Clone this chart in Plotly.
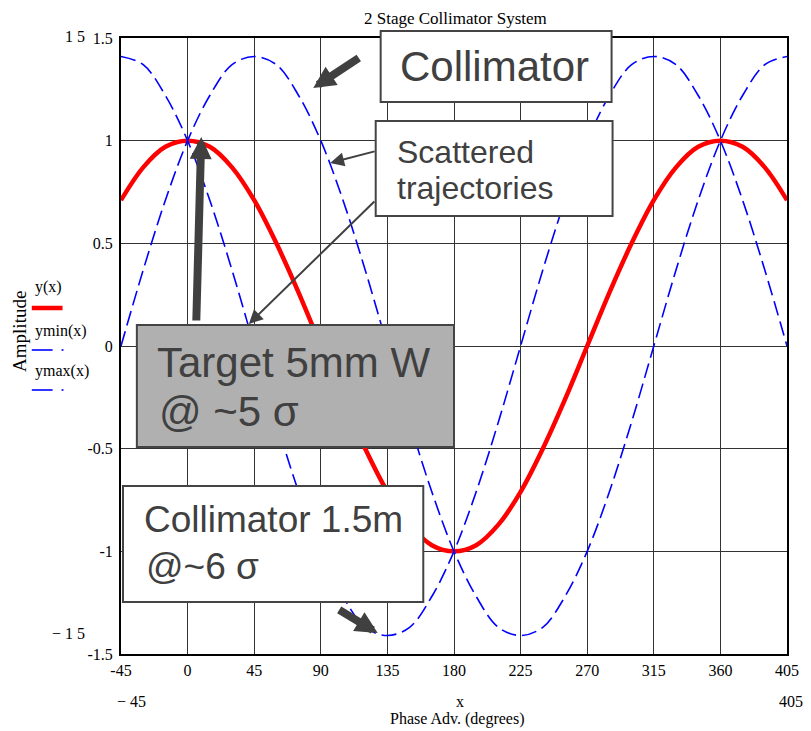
import plotly.graph_objects as go

# ---- data (phase advance in degrees) ----
phase_deg = [-45, -30, -15, 0, 15, 30, 45, 60, 75, 90, 105, 120, 135, 150, 165, 180,
             195, 210, 225, 240, 255, 270, 285, 300, 315, 330, 345, 360, 375, 390, 405]
y_vals = [0.71, 0.87, 0.97, 1.00, 0.97, 0.87, 0.71, 0.50, 0.26, 0.00, -0.26, -0.50, -0.71,
          -0.87, -0.97, -1.00, -0.97, -0.87, -0.71, -0.50, -0.26, 0.00, 0.26, 0.50, 0.71,
          0.87, 0.97, 1.00, 0.97, 0.87, 0.71]
ymin_vals = [1.41, 1.37, 1.22, 1.00, 0.71, 0.37, 0.00, -0.37, -0.71, -1.00, -1.22, -1.37,
             -1.41, -1.37, -1.22, -1.00, -0.71, -0.37, 0.00, 0.37, 0.71, 1.00, 1.22, 1.37,
             1.41, 1.37, 1.22, 1.00, 0.71, 0.37, 0.00]
ymax_vals = [0.00, 0.37, 0.71, 1.00, 1.22, 1.37, 1.41, 1.37, 1.22, 1.00, 0.71, 0.37, 0.00,
             -0.37, -0.71, -1.00, -1.22, -1.37, -1.41, -1.37, -1.22, -1.00, -0.71, -0.37,
             0.00, 0.37, 0.71, 1.00, 1.22, 1.37, 1.41]

x_ticks = [-45, 0, 45, 90, 135, 180, 225, 270, 315, 360, 405]
x_tick_text = ["-45", "0", "45", "90", "135", "180", "225", "270", "315", "360", "405"]
y_ticks = [-1.5, -1, -0.5, 0, 0.5, 1, 1.5]
y_tick_text = ["-1.5", "-1", "-0.5", "0", "0.5", "1", "1.5"]

# ---- layout geometry ----
W, H = 811, 731
L, R, T, B = 121, 18, 38, 77
PW, PH = W - L - R, H - T - B


def px(x):
    return (x - L) / PW


def py(y):
    return 1 - (y - T) / PH


SERIF = "Liberation Serif, Times New Roman, serif"
SANS = "Liberation Sans, Arial, sans-serif"
TXT = "#404040"
EDGE = "#444444"

fig = go.Figure()
fig.add_trace(go.Scatter(x=phase_deg, y=y_vals, mode="lines", name="y(x)",
                         line=dict(color="#ff0000", width=4.5, shape="spline")))
fig.add_trace(go.Scatter(x=phase_deg, y=ymin_vals, mode="lines", name="ymin(x)",
                         line=dict(color="#0000ff", width=1.6, shape="spline", dash="15px,6px")))
fig.add_trace(go.Scatter(x=phase_deg, y=ymax_vals, mode="lines", name="ymax(x)",
                         line=dict(color="#0000ff", width=1.6, shape="spline", dash="15px,6px")))

shapes = []


def box(x0, y0, x1, y1, fill):
    shapes.append(dict(type="rect", xref="paper", yref="paper", x0=px(x0), x1=px(x1),
                       y0=py(y1), y1=py(y0), line=dict(color=EDGE, width=2),
                       fillcolor=fill, layer="above"))


box(383, 31, 616, 102, "white")
box(378, 121, 617, 216, "white")
box(137, 325, 457, 447, "#b0b0b0")
box(123, 486, 426, 602, "white")

# legend samples
shapes.append(dict(type="line", xref="paper", yref="paper", x0=px(31), x1=px(62),
                   y0=py(308), y1=py(308), line=dict(color="#ff0000", width=4.5)))
for yy in (350, 390):
    shapes.append(dict(type="line", xref="paper", yref="paper", x0=px(31), x1=px(52),
                       y0=py(yy), y1=py(yy), line=dict(color="#0000ff", width=1.6)))
    shapes.append(dict(type="line", xref="paper", yref="paper", x0=px(61), x1=px(63),
                       y0=py(yy), y1=py(yy), line=dict(color="#0000ff", width=1.6)))

ann = []


def txt(x, y, s, size, family=SERIF, color="black", xanchor="center", angle=0):
    ann.append(dict(xref="paper", yref="paper", x=px(x), y=py(y), text=s, showarrow=False,
                    xanchor=xanchor, yanchor="middle", textangle=angle,
                    font=dict(family=family, size=size, color=color)))


# box texts
txt(498, 67, "Collimator", 42, SANS, TXT)
txt(397, 152, "Scattered", 32, SANS, TXT, "left")
txt(397, 188, "trajectories", 32, SANS, TXT, "left")
txt(155, 362, "Target 5mm W", 42, SANS, TXT, "left")
txt(157, 412, "@ ~5 σ", 42, SANS, TXT, "left")
txt(142, 519, "Collimator 1.5m", 37, SANS, TXT, "left")
txt(144, 566, "@~6 σ", 37, SANS, TXT, "left")

# chart texts
txt(459, 19, "2 Stage Collimator System", 17)
txt(18, 331, "Amplitude", 19, angle=-90)
txt(32, 287, "y(x)", 16, xanchor="left")
txt(32, 331, "ymin(x)", 16, xanchor="left")
txt(32, 371, "ymax(x)", 16, xanchor="left")
txt(75, 37, "1 5", 16)
txt(68, 633, "− 1 5", 16)
txt(132, 701, "− 45", 16)
txt(797, 701, "405", 16)
txt(463, 701, "x", 16)
txt(460, 719, "Phase Adv. (degrees)", 16)


def arrow(tipx, tipy, tailx, taily, width, size):
    ann.append(dict(xref="paper", yref="paper", x=px(tipx), y=py(tipy), text="",
                    showarrow=True, ax=tailx - tipx, ay=taily - tipy, arrowhead=2,
                    arrowwidth=width, arrowsize=size, arrowcolor=TXT, standoff=0))


arrow(315, 88, 362, 57, 8, 0.55)
arrow(332, 163, 378, 151, 2, 1.4)
arrow(250, 324, 377, 200, 2, 1.4)
arrow(202, 137, 197, 322, 8, 0.55)
arrow(380, 633, 340, 609, 8, 0.55)

axis_common = dict(showgrid=True, gridcolor="#333333", gridwidth=1, zeroline=False,
                   showline=True, linecolor="black", linewidth=2, mirror=True,
                   ticks="outside", tickcolor="rgba(0,0,0,0)",
                   tickfont=dict(family=SERIF, size=16, color="black"))

fig.update_layout(
    width=W, height=H, autosize=False,
    margin=dict(l=L, r=R, t=T, b=B, pad=0),
    paper_bgcolor="white", plot_bgcolor="white",
    showlegend=False,
    xaxis=dict(range=[-45, 405], tickmode="array", tickvals=x_ticks, ticktext=x_tick_text,
               ticklen=1, **axis_common),
    yaxis=dict(range=[-1.5, 1.5], tickmode="array", tickvals=y_ticks, ticktext=y_tick_text,
               ticklen=3, **axis_common),
    shapes=shapes,
    annotations=ann,
)

fig.write_html("out.html",
               config={"displayModeBar": False},
               post_script="document.body.style.margin='0';"
                           "document.body.style.overflow='hidden';")
